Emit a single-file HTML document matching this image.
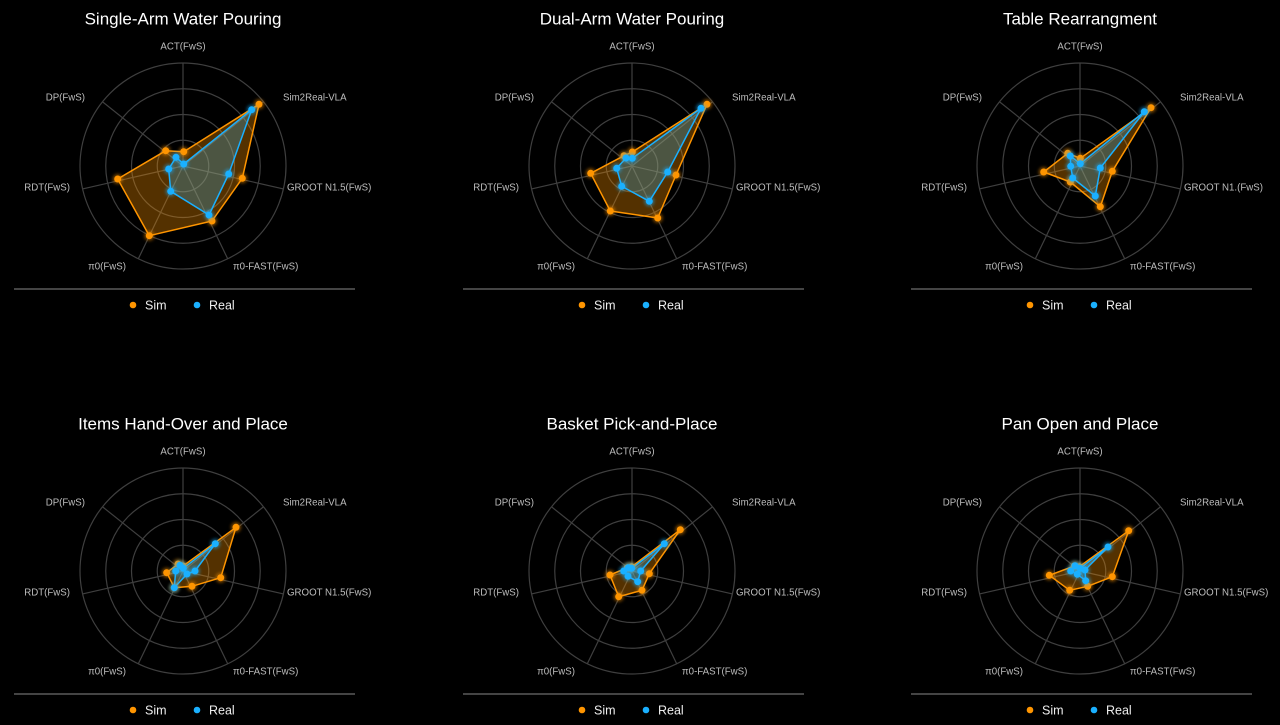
<!DOCTYPE html>
<html><head><meta charset="utf-8"><style>
html,body{margin:0;padding:0;background:#000;width:1280px;height:725px;overflow:hidden}
svg{display:block}
text{font-family:"Liberation Sans",sans-serif}
</style></head><body>
<svg id="s" width="1280" height="725" xmlns="http://www.w3.org/2000/svg"></svg>
<script>
const charts=[
{t:"Single-Arm Water Pouring",cx:183,cy:166,g:"GROOT N1.5(FwS)",
sim:[[183.7,151.7],[259,104.3],[242.3,178.3],[212,221],[149.3,235.7],[117.7,179],[165.7,150.7]],
real:[[183.7,164],[251.7,109.7],[228.7,174],[209,215],[170.7,191.3],[168.7,169],[176,157.3]]},
{t:"Dual-Arm Water Pouring",cx:632,cy:166,g:"GROOT N1.5(FwS)",
sim:[[632.3,152],[707,104.3],[676,175],[657.7,218],[610.3,211],[590.7,173.3],[624,155.7]],
real:[[632.3,158.3],[701,108.3],[667.7,172],[649.3,201.3],[621.7,186.3],[616.7,168.3],[626,158]]},
{t:"Table Rearrangment",cx:1080,cy:166,g:"GROOT N1.(FwS)",
sim:[[1080.3,158.3],[1151,107.7],[1112.3,171.3],[1100.3,206.7],[1070.3,182],[1043.7,172],[1067.7,153.3]],
real:[[1080.3,163.7],[1144.3,111.7],[1100.3,168],[1095.3,196],[1072.7,178],[1070.7,166.3],[1070.3,156]]},
{t:"Items Hand-Over and Place",cx:183,cy:571,g:"GROOT N1.5(FwS)",
sim:[[183,566],[236,527.3],[220.7,577.7],[192,586.3],[174.3,587.7],[166.7,572.7],[178,564]],
real:[[183.3,568.3],[215.3,543.7],[195,571],[187,574],[174.3,587.7],[175.7,571],[180,565.3]]},
{t:"Basket Pick-and-Place",cx:632,cy:571,g:"GROOT N1.5(FwS)",
sim:[[631.7,566.7],[680.3,529.7],[649.3,573.7],[642,590.3],[618.7,596.7],[610,575],[627.3,567.7]],
real:[[631.7,568.3],[664.3,543.7],[640.7,571],[637.7,581.7],[628,576.3],[623.7,571],[628.3,567.7]]},
{t:"Pan Open and Place",cx:1080,cy:571,g:"GROOT N1.5(FwS)",
sim:[[1079.3,566.7],[1128.7,530.7],[1112.3,576.7],[1087.7,586.3],[1069.7,590.3],[1049.3,575.3],[1074.3,566]],
real:[[1080,568.3],[1108,547],[1085,570],[1085.7,580.7],[1077.3,574.3],[1070.7,571],[1075,565.7]]}
];
let h='<defs><filter id="gl" x="-1" y="-1" width="3" height="3"><feGaussianBlur stdDeviation="1.5"/></filter></defs>';
const O='#ff9500',B='#1ab0ff';
for(const c of charts){
 const {cx,cy}=c, R=103, dy=cy-166;
 h+=`<text x="${cx}" y="${cy-146}" fill="#fff" font-size="17" text-anchor="middle" dominant-baseline="middle">${c.t}</text>`;
 for(let k=1;k<=4;k++)h+=`<circle cx="${cx}" cy="${cy}" r="${R*k/4}" fill="none" stroke="#3f3f3f" stroke-width="1.2"/>`;
 for(let i=0;i<7;i++){const a=i*2*Math.PI/7;h+=`<line x1="${cx}" y1="${cy}" x2="${cx+R*Math.sin(a)}" y2="${cy-R*Math.cos(a)}" stroke="#3f3f3f" stroke-width="1.2"/>`;}
 const labs=[["ACT(FwS)",0,-119,"middle"],["Sim2Real-VLA",100,-68,"start"],[c.g,104,22,"start"],["π0-FAST(FwS)",50,101,"start"],["π0(FwS)",-57,101,"end"],["RDT(FwS)",-113,22,"end"],["DP(FwS)",-98,-68,"end"]];
 for(const l of labs)h+=`<text x="${cx+l[1]}" y="${cy+l[2]}" fill="#bdbdbd" font-size="9.7" text-anchor="${l[3]}" dominant-baseline="middle">${l[0]}</text>`;
 const pts=a=>a.map(p=>p.join(',')).join(' ');
 h+=`<polygon points="${pts(c.sim)}" fill="rgba(255,149,0,0.33)" stroke="${O}" stroke-width="1.5" stroke-linejoin="round"/>`;
 h+=`<polygon points="${pts(c.real)}" fill="rgba(60,170,220,0.3)" stroke="${B}" stroke-width="1.5" stroke-linejoin="round"/>`;
 for(const p of c.sim)h+=`<circle cx="${p[0]}" cy="${p[1]}" r="5" fill="${O}" opacity="0.5" filter="url(#gl)"/><circle cx="${p[0]}" cy="${p[1]}" r="3.5" fill="${O}"/>`;
 for(const p of c.real)h+=`<circle cx="${p[0]}" cy="${p[1]}" r="5" fill="${B}" opacity="0.5" filter="url(#gl)"/><circle cx="${p[0]}" cy="${p[1]}" r="3.5" fill="${B}"/>`;
 h+=`<line x1="${cx-169}" y1="${289+dy}" x2="${cx+172}" y2="${289+dy}" stroke="#888" stroke-width="1"/>`;
 h+=`<circle cx="${cx-50}" cy="${305+dy}" r="3.3" fill="${O}"/><text x="${cx-38}" y="${306+dy}" fill="#eee" font-size="12.5" dominant-baseline="middle">Sim</text>`;
 h+=`<circle cx="${cx+14}" cy="${305+dy}" r="3.3" fill="${B}"/><text x="${cx+26}" y="${306+dy}" fill="#eee" font-size="12.5" dominant-baseline="middle">Real</text>`;
}
document.getElementById('s').innerHTML=h;
</script>
</body></html>
